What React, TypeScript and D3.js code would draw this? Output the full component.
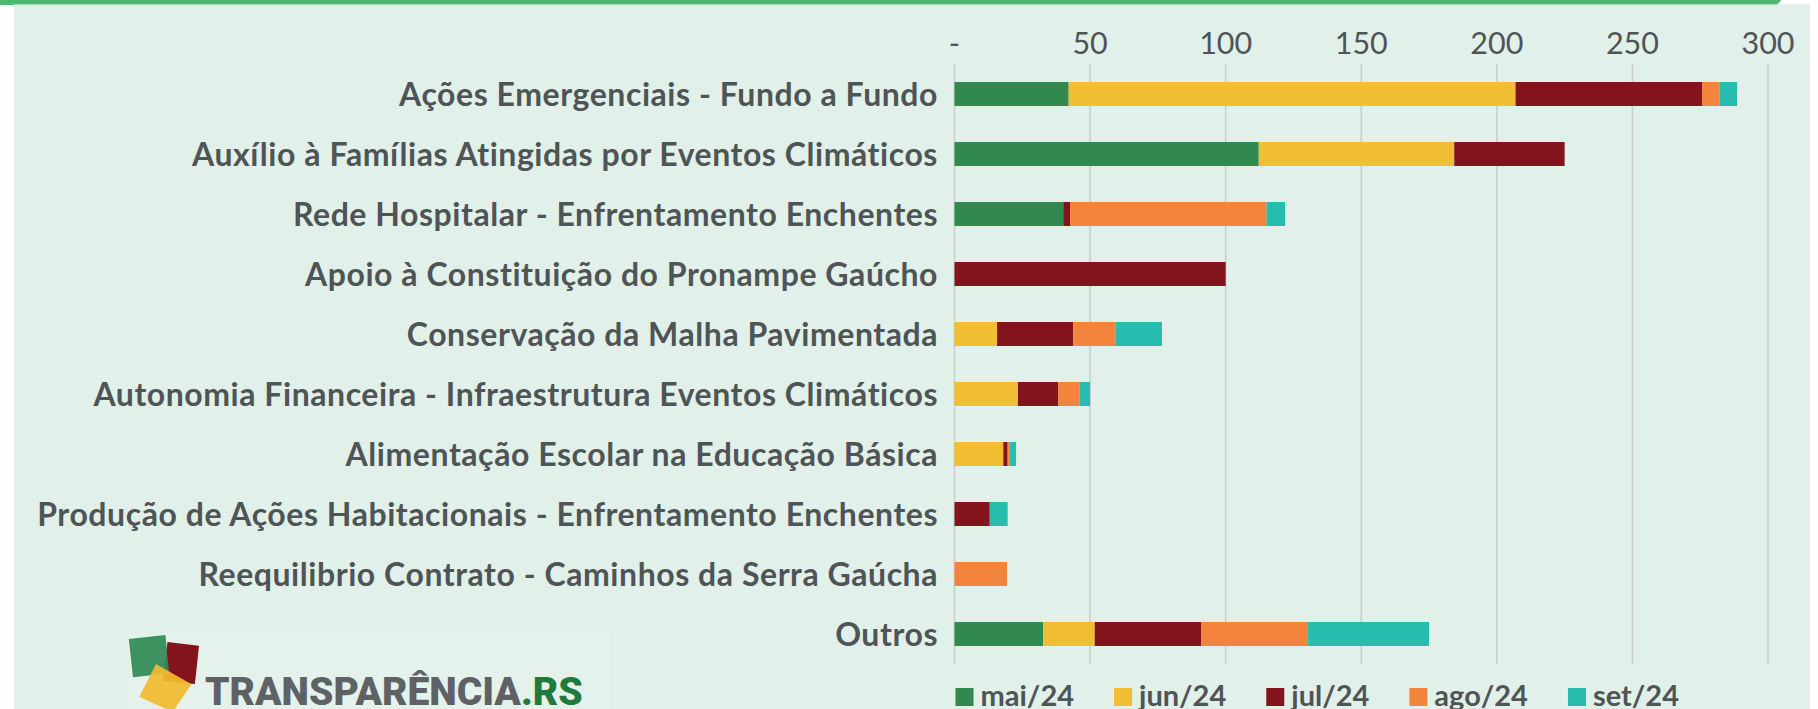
import React, { useEffect, useRef } from "react";
import * as d3 from "d3";

const categories = [
  "Ações Emergenciais - Fundo a Fundo",
  "Auxílio à Famílias Atingidas por Eventos Climáticos",
  "Rede Hospitalar - Enfrentamento Enchentes",
  "Apoio à Constituição do Pronampe Gaúcho",
  "Conservação da Malha Pavimentada",
  "Autonomia Financeira - Infraestrutura Eventos Climáticos",
  "Alimentação Escolar na Educação Básica",
  "Produção de Ações Habitacionais - Enfrentamento Enchentes",
  "Reequilibrio Contrato - Caminhos da Serra Gaúcha",
  "Outros",
];

const seriesNames = ["mai/24", "jun/24", "jul/24", "ago/24", "set/24"];
const mai24 = [42.1, 112.2, 40.1, 0, 0, 0, 0, 0, 0, 32.7];
const jun24 = [164.8, 72.1, 0, 0, 15.7, 23.4, 18.0, 0, 0, 19.0];
const jul24 = [68.8, 40.7, 2.5, 100.0, 28.1, 14.8, 1.6, 13.0, 0, 39.2];
const ago24 = [6.5, 0, 72.5, 0, 15.7, 7.9, 0.8, 0, 19.4, 39.5];
const set24 = [6.4, 0, 6.8, 0, 17.0, 3.9, 2.3, 6.6, 0, 44.6];
const seriesColors = ["#31894f", "#f0bd33", "#83141b", "#f2843d", "#26bdae"];
const tickValues = [0, 50, 100, 150, 200, 250, 300];

const W = 1818;
const H = 709;

export default function App() {
  const ref = useRef<SVGSVGElement>(null);

  useEffect(() => {
    const svg = d3.select(ref.current);
    svg.selectAll("*").remove();

    const textColor = "#4f5456";
    const font = "Lato, 'Open Sans', sans-serif";

    // background
    svg.append("rect").attr("x", 0).attr("y", 0).attr("width", W).attr("height", H).attr("fill", "#ffffff");
    svg.append("rect").attr("x", 14).attr("y", 4).attr("width", 1796).attr("height", H - 4).attr("fill", "#e1f0e8");
    // top green band
    svg.append("path")
      .attr("d", "M0,0 H1781 Q1779,5 1772,5 H0 Z")
      .attr("fill", "#4cb96f");
    svg.append("rect").attr("x", 14).attr("y", 4).attr("width", 1762).attr("height", 1.2).attr("fill", "#a9dcb8");

    const table = categories.map((c, i) => ({
      cat: c,
      "mai/24": mai24[i],
      "jun/24": jun24[i],
      "jul/24": jul24[i],
      "ago/24": ago24[i],
      "set/24": set24[i],
    }));

    const x = d3.scaleLinear().domain([0, 300]).range([954.5, 1768]);
    const y = d3.scaleBand<string>().domain(categories).range([64, 664]).paddingInner(0.6).paddingOuter(0.3);
    const color = d3.scaleOrdinal<string, string>().domain(seriesNames).range(seriesColors);

    // gridlines
    svg.append("g")
      .selectAll("line")
      .data(tickValues)
      .join("line")
      .attr("x1", (d) => x(d))
      .attr("x2", (d) => x(d))
      .attr("y1", 64)
      .attr("y2", 664)
      .attr("stroke", "#c9cfcb")
      .attr("stroke-width", 1.6);

    // tick labels
    svg.append("g")
      .selectAll("text")
      .data(tickValues)
      .join("text")
      .attr("x", (d) => x(d))
      .attr("y", 54)
      .attr("text-anchor", "middle")
      .attr("font-family", font)
      .attr("font-size", 30.5)
      .attr("fill", textColor)
      .text((d) => (d === 0 ? "-" : d3.format("d")(d)));

    // stacked bars
    const stack = d3.stack<any>().keys(seriesNames);
    const stacked = stack(table as any);
    svg.append("g")
      .selectAll("g")
      .data(stacked)
      .join("g")
      .attr("fill", (s) => color(s.key))
      .selectAll("rect")
      .data((s) => s.filter((d) => d[1] - d[0] > 0))
      .join("rect")
      .attr("x", (d) => x(d[0]))
      .attr("width", (d) => x(d[1]) - x(d[0]))
      .attr("y", (d) => y((d.data as any).cat)!)
      .attr("height", y.bandwidth());

    // category labels
    svg.append("g")
      .selectAll("text")
      .data(categories)
      .join("text")
      .attr("x", 938)
      .attr("y", (d) => y(d)! + y.bandwidth() / 2 + 11.5)
      .attr("text-anchor", "end")
      .attr("font-family", font)
      .attr("font-weight", 700)
      .attr("font-size", 32)
      .attr("letter-spacing", 0.55)
      .attr("fill", textColor)
      .text((d) => d);

    // legend
    const legend = svg.append("g");
    let lx = x(0) + 1;
    seriesNames.forEach((name) => {
      legend.append("rect")
        .attr("x", lx)
        .attr("y", 688)
        .attr("width", 18)
        .attr("height", 18)
        .attr("fill", color(name));
      const t = legend.append("text")
        .attr("x", lx + 25)
        .attr("y", 706)
        .attr("font-family", font)
        .attr("font-weight", 700)
        .attr("font-size", 29)
        .attr("fill", textColor)
        .text(name);
      const w = (t.node() as SVGTextElement).getComputedTextLength();
      lx = lx + 25 + w + 40;
    });

    // logo backdrop
    svg.append("rect").attr("x", 128).attr("y", 633).attr("width", 482).attr("height", 76).attr("fill", "#e4f2eb");
    const logo = svg.append("g");
    logo.append("polygon").attr("points", "163,681 167.5,642 199,645.7 194.9,684").attr("fill", "#83141b");
    logo.append("polygon").attr("points", "128.8,639 165.4,635 169.2,673.3 133,677.3").attr("fill", "#2f8a52").attr("opacity", 0.92);
    logo.append("polygon").attr("points", "156,664 191.5,684.3 172.6,712 139.3,696.7").attr("fill", "#f2bb30").attr("opacity", 0.93);
    const lt = logo.append("text")
      .attr("x", 205)
      .attr("y", 705)
      .attr("font-family", "Roboto, 'Open Sans', sans-serif")
      .attr("font-weight", 900)
      .attr("font-size", 39)
      .attr("fill", "#5e6264");
    lt.append("tspan").text("TRANSPARÊNCIA");
    lt.append("tspan").attr("fill", "#1f7a3c").text(".RS");
  }, []);

  return (
    <svg
      ref={ref}
      width={W}
      height={H}
      style={{ position: "absolute", left: 0, top: 0, display: "block" }}
    />
  );
}
